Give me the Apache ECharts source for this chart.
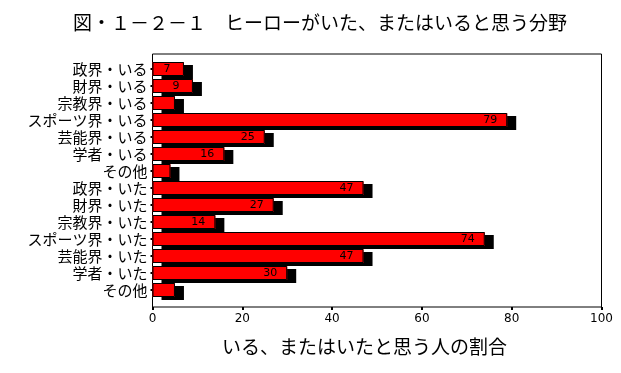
<!DOCTYPE html>
<html><head><meta charset="utf-8">
<script src="https://cdn.jsdelivr.net/npm/echarts@6/dist/echarts.min.js"></script>
<style>html,body{margin:0;padding:0;background:#fff}#c{width:621px;height:373px}</style>
</head><body><div id="c"></div>
<script>
const titleText = '図・１－２－１　ヒーローがいた、またはいると思う分野';
const axisTitle = 'いる、またはいたと思う人の割合';
const categories = ['政界・いる','財界・いる','宗教界・いる','スポーツ界・いる','芸能界・いる','学者・いる','その他',
                    '政界・いた','財界・いた','宗教界・いた','スポーツ界・いた','芸能界・いた','学者・いた','その他'];
const values = [7, 9, 5, 79, 25, 16, 4, 47, 27, 14, 74, 47, 30, 5];
const xMin = 0, xMax = 100, xStep = 20;
const labelMinValue = 7;

const font = '"Noto Sans CJK JP", sans-serif';
const chart = echarts.init(document.getElementById('c'), null, {renderer: 'canvas'});
chart.setOption({
  animation: false,
  backgroundColor: '#fff',
  title: {text: titleText, left: 68, top: 8,
    textStyle: {fontFamily: font, fontSize: 19, fontWeight: 'normal', color: '#000'}},
  grid: [
    {left: 152.5, right: 19.5, top: 60.5, bottom: 74.5, containLabel: false},
    {left: 152.5, right: 19.5, top: 54, bottom: 66, show: true, borderColor: '#000', borderWidth: 1, backgroundColor: 'transparent'}
  ],
  xAxis: [
    {type: 'value', gridIndex: 0, min: xMin, max: xMax, interval: xStep, offset: 8.5,
     axisLine: {show: false},
     axisTick: {show: true, length: 3, lineStyle: {color: '#000', width: 2}},
     splitLine: {show: false},
     axisLabel: {color: '#000', fontFamily: '"DejaVu Sans", sans-serif', fontSize: 12, margin: 6},
     name: axisTitle, nameLocation: 'middle', nameGap: 30,
     nameTextStyle: {fontFamily: font, fontSize: 19, color: '#000', padding: [0, 25, 0, 0]}},
    {type: 'value', gridIndex: 1, show: false, min: 0, max: 1}
  ],
  yAxis: [
    {type: 'category', gridIndex: 0, data: categories, inverse: true,
     axisLine: {show: false},
     axisTick: {show: true, length: 2, alignWithLabel: true, lineStyle: {color: '#000', width: 2}},
     axisLabel: {color: '#000', fontFamily: font, fontSize: 15, margin: 5, interval: 0}},
    {type: 'value', gridIndex: 1, show: false, min: 0, max: 1}
  ],
  series: [{
    type: 'bar', xAxisIndex: 0, yAxisIndex: 0, data: values, barWidth: 14,
    itemStyle: {color: '#ff0000', borderWidth: 0,
      shadowColor: '#000', shadowBlur: 0, shadowOffsetX: 9, shadowOffsetY: 3},
    label: {show: false}
  }, {
    type: 'bar', xAxisIndex: 0, yAxisIndex: 0, data: values, barWidth: 14, barGap: '-100%',
    itemStyle: {color: 'rgba(0,0,0,0)', borderColor: '#000', borderWidth: 1},
    label: {show: true, position: 'insideRight', distance: 17, align: 'center',
      color: '#000', fontFamily: '"DejaVu Sans", sans-serif', fontSize: 11,
      formatter: p => (p.value >= labelMinValue ? String(p.value) : '')}
  }]
});
</script></body></html>
